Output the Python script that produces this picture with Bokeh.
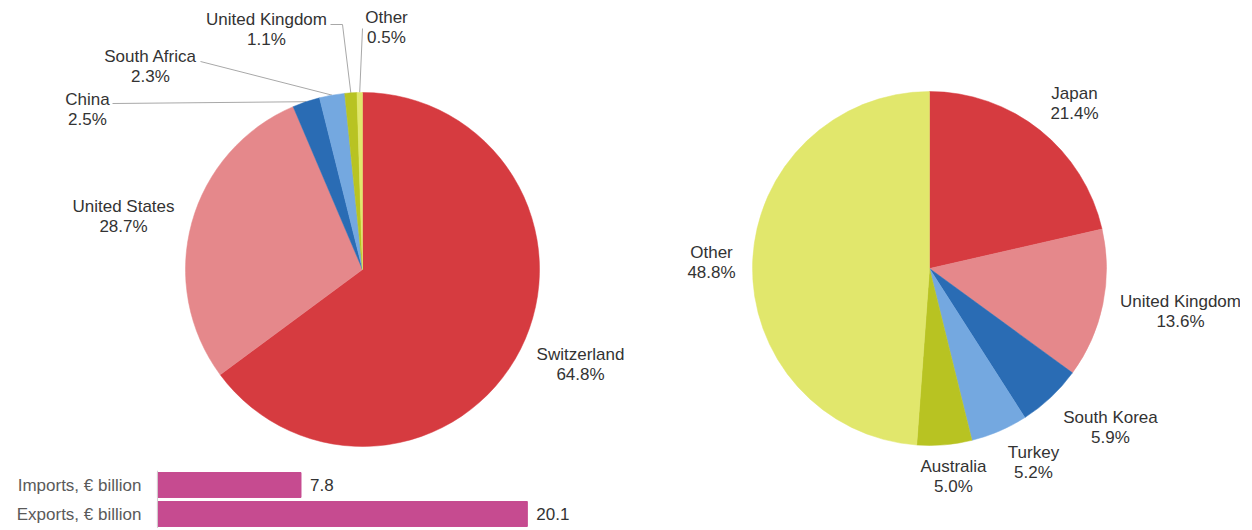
import math
from bokeh.plotting import figure
from bokeh.layouts import row, column
from bokeh.models import Range1d, FactorRange, ColumnDataSource, Span
from bokeh.core.properties import value
from bokeh.embed import file_html
from bokeh.resources import INLINE

# ---------------- data ----------------
import_countries = ["Switzerland", "United States", "China", "South Africa", "United Kingdom", "Other"]
import_shares = [64.8, 28.7, 2.5, 2.3, 1.1, 0.5]

export_countries = ["Japan", "United Kingdom", "South Korea", "Turkey", "Australia", "Other"]
export_shares = [21.4, 13.6, 5.9, 5.2, 5.0, 48.8]

trade_categories = ["Imports, € billion", "Exports, € billion"]
trade_values = [7.8, 20.1]

# ---------------- style ----------------
FONT = "Liberation Sans"
TEXT_COLOR = "#333333"
slice_colors = ["#d63b40", "#e5888b", "#2a6cb4", "#74a8e0", "#b8c322", "#e1e76c"]
BAR_COLOR = "#c64b90"
LEADER_COLOR = "#a8a8a8"
R = 177


def wedge_source(names, shares, colors):
    total = sum(shares)
    starts, ends, mids = [], [], []
    cum = 0.0
    for s in shares:
        a0 = math.pi / 2 - 2 * math.pi * cum / total
        cum += s
        a1 = math.pi / 2 - 2 * math.pi * cum / total
        starts.append(a0)
        ends.append(a1)
        mids.append((a0 + a1) / 2)
    labels = [f"{n}\n{s:.1f}%" for n, s in zip(names, shares)]
    return ColumnDataSource(dict(name=names, share=shares, start=starts, end=ends,
                                 mid=mids, color=colors, label=labels)), mids


def pie_figure(width, height, cx, cy):
    p = figure(width=width, height=height, output_backend="svg", toolbar_location=None,
               x_range=Range1d(-cx, width - cx), y_range=Range1d(cy - height, cy),
               x_axis_type=None, y_axis_type=None, min_border=0)
    p.grid.visible = False
    p.outline_line_color = None
    p.background_fill_color = None
    p.border_fill_color = None
    return p


def add_labels(p, src, dxs, dys):
    lab = ColumnDataSource(dict(x=dxs, y=dys, text=src.data["label"]))
    p.text(x="x", y="y", text="text", source=lab, text_align="center",
           text_baseline="middle", text_font=value(FONT), text_font_size="17px",
           text_color=TEXT_COLOR, text_line_height=1.08)


# ---------------- left pie (imports) ----------------
left = pie_figure(640, 470, 362, 269)
lsrc, lmids = wedge_source(import_countries, import_shares, slice_colors)

# leader lines for small slices: label-side points (layout) -> slice edge (from data)
leader_from = {2: [(-250, 166)], 3: [(-162, 208)], 4: [(-32, 245), (-20, 245)], 5: [(0, 241)]}
xs, ys = [], []
for i, pts in leader_from.items():
    ex, ey = R * math.cos(lmids[i]), R * math.sin(lmids[i])
    xs.append([q[0] for q in pts] + [ex])
    ys.append([q[1] for q in pts] + [ey])
left.multi_line(xs=xs, ys=ys, line_color=LEADER_COLOR, line_width=1)

left.wedge(x=0, y=0, radius=R, start_angle="start", end_angle="end", direction="clock",
           fill_color="color", line_color="color", line_width=0.5, source=lsrc)
add_labels(left, lsrc,
           [218, -239, -275, -212, -96, 24],
           [-95, 53, 160, 203, 240, 242])

# ---------------- bar chart ----------------
bars = figure(width=640, height=58, output_backend="svg", toolbar_location=None,
              y_range=FactorRange(*trade_categories[::-1]), x_range=Range1d(-8.53, 26.25),
              x_axis_type=None, y_axis_type=None, min_border=0)
bars.grid.visible = False
bars.outline_line_color = None
bars.y_range.range_padding = 0
bsrc = ColumnDataSource(dict(cat=trade_categories, val=trade_values,
                             txt=[f"{v:.1f}" for v in trade_values]))
bars.hbar(y="cat", right="val", left=0, height=0.86, fill_color=BAR_COLOR,
          line_color=BAR_COLOR, source=bsrc)
bars.add_layout(Span(location=0, dimension="height", line_color="#d0d0d0", line_width=1))
bars.text(x="val", y="cat", text="txt", x_offset=9, text_baseline="middle",
          text_font=value(FONT), text_font_size="17px", text_color=TEXT_COLOR, source=bsrc)
bars.text(x=0, y="cat", text="cat", x_offset=-16, text_align="right", text_baseline="middle",
          text_font=value(FONT), text_font_size="17px", text_color="#5a5a5a", source=bsrc)

# ---------------- right pie (exports) ----------------
right = pie_figure(600, 528, 289, 268)
rsrc, rmids = wedge_source(export_countries, export_shares, slice_colors)
right.wedge(x=0, y=0, radius=R, start_angle="start", end_angle="end", direction="clock",
            fill_color="color", line_color="color", line_width=0.5, source=rsrc)
add_labels(right, rsrc,
           [145, 251, 181, 104, 24, -218],
           [165, -43, -159, -194, -208, 6])

layout = row(column(left, bars, spacing=0), right, spacing=0)
open("out.html", "w").write(file_html(layout, INLINE))
